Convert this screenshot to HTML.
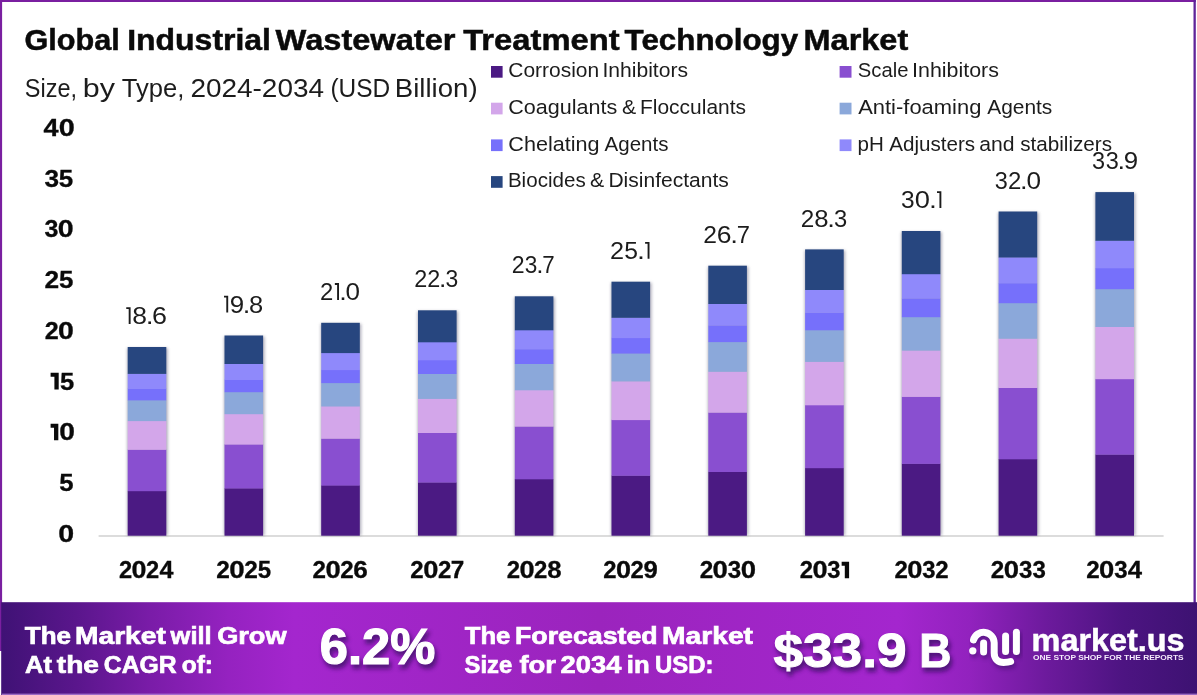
<!DOCTYPE html>
<html><head><meta charset="utf-8"><title>Global Industrial Wastewater Treatment Technology Market</title>
<style>
html,body{margin:0;padding:0;background:#fff;}
body{width:1197px;height:695px;overflow:hidden;font-family:"Liberation Sans",sans-serif;}
svg{display:block;font-family:"Liberation Sans",sans-serif;will-change:transform;-webkit-font-smoothing:antialiased;}
</style></head><body>
<svg width="1197" height="695" viewBox="0 0 1197 695">
<defs>
<linearGradient id="fg" x1="0" y1="0" x2="1" y2="0">
<stop offset="0" stop-color="#3f1275"/>
<stop offset="0.0625" stop-color="#5a168c"/>
<stop offset="0.125" stop-color="#7a1ca8"/>
<stop offset="0.19" stop-color="#9522c0"/>
<stop offset="0.245" stop-color="#a426ce"/>
<stop offset="0.5" stop-color="#9b24bd"/>
<stop offset="0.75" stop-color="#a426ce"/>
<stop offset="0.81" stop-color="#9222be"/>
<stop offset="0.875" stop-color="#6c1a9c"/>
<stop offset="0.9375" stop-color="#4d1482"/>
<stop offset="1" stop-color="#3d1272"/>
</linearGradient>
<filter id="bs" x="-30%" y="-5%" width="160%" height="110%"><feGaussianBlur stdDeviation="1.6"/></filter>
<filter id="ts" x="-10%" y="-20%" width="120%" height="150%"><feGaussianBlur stdDeviation="2"/></filter>
</defs>
<rect x="0" y="0" width="1197" height="695" fill="#ffffff"/>

<rect x="0" y="0" width="1195.8" height="2.0" fill="#7a1fa0"/>
<rect x="0" y="0" width="2.1" height="651" fill="#7a1fa0"/>
<rect x="1193.5" y="0" width="2.3" height="603" fill="#5f2499"/>
<text y="50.2" font-size="29.4" font-weight="700" fill="#0a0a0a" stroke="#0a0a0a" stroke-width="0.5"><tspan x="24.5" textLength="95.3" lengthAdjust="spacingAndGlyphs">Global</tspan><tspan x="127.2" textLength="143.8" lengthAdjust="spacingAndGlyphs">Industrial</tspan><tspan x="275.6" textLength="179.9" lengthAdjust="spacingAndGlyphs">Wastewater</tspan><tspan x="463.2" textLength="156.4" lengthAdjust="spacingAndGlyphs">Treatment</tspan><tspan x="624.6" textLength="173.6" lengthAdjust="spacingAndGlyphs">Technology</tspan><tspan x="803.6" textLength="104.6" lengthAdjust="spacingAndGlyphs">Market</tspan></text>
<text y="97.2" font-size="25.7" font-weight="400" fill="#1c1c1c"><tspan x="24.8" textLength="52.2" lengthAdjust="spacingAndGlyphs">Size,</tspan><tspan x="82.8" textLength="32.2" lengthAdjust="spacingAndGlyphs">by</tspan><tspan x="121.8" textLength="62.6" lengthAdjust="spacingAndGlyphs">Type,</tspan><tspan x="190.4" textLength="133.6" lengthAdjust="spacingAndGlyphs">2024-2034</tspan><tspan x="330.4" textLength="59.8" lengthAdjust="spacingAndGlyphs">(USD</tspan><tspan x="394.8" textLength="82.8" lengthAdjust="spacingAndGlyphs">Billion)</tspan></text>
<text y="541.7" font-size="24.2" font-weight="700" fill="#0a0a0a" stroke="#0a0a0a" stroke-width="0.3"><tspan x="58.37" textLength="15.90" lengthAdjust="spacingAndGlyphs">0</tspan></text>
<text y="491.0" font-size="24.2" font-weight="700" fill="#0a0a0a" stroke="#0a0a0a" stroke-width="0.3"><tspan x="59.21" textLength="14.31" lengthAdjust="spacingAndGlyphs">5</tspan></text>
<text y="440.3" font-size="24.2" font-weight="700" fill="#0a0a0a" stroke="#0a0a0a" stroke-width="0.3"><tspan x="59.28" textLength="15.68" lengthAdjust="spacingAndGlyphs">0</tspan></text><path d="M50.60 423.65H58.33V440.3H54.03V427.65H50.60Z" fill="#0a0a0a"/>
<text y="389.5" font-size="24.2" font-weight="700" fill="#0a0a0a" stroke="#0a0a0a" stroke-width="0.3"><tspan x="60.07" textLength="14.24" lengthAdjust="spacingAndGlyphs">5</tspan></text><path d="M50.60 372.85H58.70V389.5H54.40V376.85H50.60Z" fill="#0a0a0a"/>
<text y="338.8" font-size="24.2" font-weight="700" fill="#0a0a0a" stroke="#0a0a0a" stroke-width="0.3"><tspan x="44.73" textLength="13.96" lengthAdjust="spacingAndGlyphs">2</tspan><tspan x="58.13" textLength="15.84" lengthAdjust="spacingAndGlyphs">0</tspan></text>
<text y="288.1" font-size="24.2" font-weight="700" fill="#0a0a0a" stroke="#0a0a0a" stroke-width="0.3"><tspan x="44.49" textLength="14.64" lengthAdjust="spacingAndGlyphs">2</tspan><tspan x="58.91" textLength="14.41" lengthAdjust="spacingAndGlyphs">5</tspan></text>
<text y="237.4" font-size="24.2" font-weight="700" fill="#0a0a0a" stroke="#0a0a0a" stroke-width="0.3"><tspan x="44.43" textLength="13.92" lengthAdjust="spacingAndGlyphs">3</tspan><tspan x="57.88" textLength="15.89" lengthAdjust="spacingAndGlyphs">0</tspan></text>
<text y="186.6" font-size="24.2" font-weight="700" fill="#0a0a0a" stroke="#0a0a0a" stroke-width="0.3"><tspan x="44.40" textLength="14.58" lengthAdjust="spacingAndGlyphs">3</tspan><tspan x="58.88" textLength="14.45" lengthAdjust="spacingAndGlyphs">5</tspan></text>
<text y="135.9" font-size="24.2" font-weight="700" fill="#0a0a0a" stroke="#0a0a0a" stroke-width="0.3"><tspan x="43.49" textLength="15.03" lengthAdjust="spacingAndGlyphs">4</tspan><tspan x="58.82" textLength="16.06" lengthAdjust="spacingAndGlyphs">0</tspan></text>
<rect x="98.6" y="535.1999999999999" width="1065" height="1.6" fill="#d4d4d4"/>
<rect x="127.2" y="348.0" width="40.6" height="187.4" fill="#7d7a90" opacity="0.6" filter="url(#bs)"/>
<rect x="127.7" y="490.9" width="38.6" height="44.8" fill="#4b1a83"/>
<rect x="127.7" y="449.5" width="38.6" height="41.7" fill="#894fd0"/>
<rect x="127.7" y="420.9" width="38.6" height="28.9" fill="#d3a6ea"/>
<rect x="127.7" y="400.1" width="38.6" height="21.0" fill="#8ba8da"/>
<rect x="127.7" y="388.6" width="38.6" height="11.8" fill="#7670fb"/>
<rect x="127.7" y="373.6" width="38.6" height="15.4" fill="#8f89fb"/>
<rect x="127.7" y="347.0" width="38.6" height="26.9" fill="#27467f"/>
<text y="324.1" font-size="24.4" font-weight="400" fill="#1c1c1c"><tspan x="132.25" textLength="14.74" lengthAdjust="spacingAndGlyphs">8</tspan><tspan x="145.74" textLength="7.86" lengthAdjust="spacingAndGlyphs">.</tspan><tspan x="152.14" textLength="14.99" lengthAdjust="spacingAndGlyphs">6</tspan></text><path d="M126.25 307.31H130.60V324.1H128.70V309.11H126.25Z" fill="#1c1c1c"/>
<text y="578.3" font-size="24.0" font-weight="700" fill="#0a0a0a" stroke="#0a0a0a" stroke-width="0.3"><tspan x="118.93" textLength="13.18" lengthAdjust="spacingAndGlyphs">2</tspan><tspan x="131.57" textLength="14.95" lengthAdjust="spacingAndGlyphs">0</tspan><tspan x="146.07" textLength="13.18" lengthAdjust="spacingAndGlyphs">2</tspan><tspan x="159.40" textLength="13.99" lengthAdjust="spacingAndGlyphs">4</tspan></text>
<rect x="224.0" y="336.5" width="40.6" height="198.9" fill="#7d7a90" opacity="0.6" filter="url(#bs)"/>
<rect x="224.5" y="488.2" width="38.6" height="47.5" fill="#4b1a83"/>
<rect x="224.5" y="444.2" width="38.6" height="44.3" fill="#894fd0"/>
<rect x="224.5" y="413.9" width="38.6" height="30.7" fill="#d3a6ea"/>
<rect x="224.5" y="391.9" width="38.6" height="22.3" fill="#8ba8da"/>
<rect x="224.5" y="379.7" width="38.6" height="12.5" fill="#7670fb"/>
<rect x="224.5" y="363.7" width="38.6" height="16.3" fill="#8f89fb"/>
<rect x="224.5" y="335.5" width="38.6" height="28.5" fill="#27467f"/>
<text y="312.6" font-size="24.4" font-weight="400" fill="#1c1c1c"><tspan x="229.67" textLength="14.41" lengthAdjust="spacingAndGlyphs">9</tspan><tspan x="242.76" textLength="7.57" lengthAdjust="spacingAndGlyphs">.</tspan><tspan x="249.12" textLength="14.19" lengthAdjust="spacingAndGlyphs">8</tspan></text><path d="M224.00 295.81H228.19V312.6H226.29V297.61H224.00Z" fill="#1c1c1c"/>
<text y="578.3" font-size="24.0" font-weight="700" fill="#0a0a0a" stroke="#0a0a0a" stroke-width="0.3"><tspan x="216.30" textLength="13.60" lengthAdjust="spacingAndGlyphs">2</tspan><tspan x="229.35" textLength="15.43" lengthAdjust="spacingAndGlyphs">0</tspan><tspan x="244.32" textLength="13.60" lengthAdjust="spacingAndGlyphs">2</tspan><tspan x="257.73" textLength="13.39" lengthAdjust="spacingAndGlyphs">5</tspan></text>
<rect x="320.7" y="323.8" width="40.6" height="211.6" fill="#7d7a90" opacity="0.6" filter="url(#bs)"/>
<rect x="321.2" y="485.2" width="38.6" height="50.5" fill="#4b1a83"/>
<rect x="321.2" y="438.5" width="38.6" height="47.1" fill="#894fd0"/>
<rect x="321.2" y="406.1" width="38.6" height="32.6" fill="#d3a6ea"/>
<rect x="321.2" y="382.8" width="38.6" height="23.7" fill="#8ba8da"/>
<rect x="321.2" y="369.8" width="38.6" height="13.3" fill="#7670fb"/>
<rect x="321.2" y="352.8" width="38.6" height="17.3" fill="#8f89fb"/>
<rect x="321.2" y="322.8" width="38.6" height="30.3" fill="#27467f"/>
<text y="299.9" font-size="24.4" font-weight="400" fill="#1c1c1c"><tspan x="320.10" textLength="13.29" lengthAdjust="spacingAndGlyphs">2</tspan><tspan x="339.22" textLength="7.51" lengthAdjust="spacingAndGlyphs">.</tspan><tspan x="345.61" textLength="14.51" lengthAdjust="spacingAndGlyphs">0</tspan></text><path d="M334.86 283.11H339.01V299.9H337.11V284.91H334.86Z" fill="#1c1c1c"/>
<text y="578.3" font-size="24.0" font-weight="700" fill="#0a0a0a" stroke="#0a0a0a" stroke-width="0.3"><tspan x="312.51" textLength="13.45" lengthAdjust="spacingAndGlyphs">2</tspan><tspan x="325.41" textLength="15.26" lengthAdjust="spacingAndGlyphs">0</tspan><tspan x="340.22" textLength="13.45" lengthAdjust="spacingAndGlyphs">2</tspan><tspan x="353.24" textLength="14.55" lengthAdjust="spacingAndGlyphs">6</tspan></text>
<rect x="417.5" y="311.3" width="40.6" height="224.1" fill="#7d7a90" opacity="0.6" filter="url(#bs)"/>
<rect x="418.0" y="482.3" width="38.6" height="53.4" fill="#4b1a83"/>
<rect x="418.0" y="432.8" width="38.6" height="49.8" fill="#894fd0"/>
<rect x="418.0" y="398.5" width="38.6" height="34.5" fill="#d3a6ea"/>
<rect x="418.0" y="373.8" width="38.6" height="25.1" fill="#8ba8da"/>
<rect x="418.0" y="360.0" width="38.6" height="14.0" fill="#7670fb"/>
<rect x="418.0" y="342.0" width="38.6" height="18.3" fill="#8f89fb"/>
<rect x="418.0" y="310.3" width="38.6" height="32.0" fill="#27467f"/>
<text y="287.4" font-size="24.4" font-weight="400" fill="#1c1c1c"><tspan x="414.37" textLength="13.02" lengthAdjust="spacingAndGlyphs">2</tspan><tspan x="427.37" textLength="13.02" lengthAdjust="spacingAndGlyphs">2</tspan><tspan x="439.12" textLength="7.36" lengthAdjust="spacingAndGlyphs">.</tspan><tspan x="445.52" textLength="12.74" lengthAdjust="spacingAndGlyphs">3</tspan></text>
<text y="578.3" font-size="24.0" font-weight="700" fill="#0a0a0a" stroke="#0a0a0a" stroke-width="0.3"><tspan x="410.37" textLength="13.37" lengthAdjust="spacingAndGlyphs">2</tspan><tspan x="423.20" textLength="15.17" lengthAdjust="spacingAndGlyphs">0</tspan><tspan x="437.91" textLength="13.37" lengthAdjust="spacingAndGlyphs">2</tspan><tspan x="450.78" textLength="13.49" lengthAdjust="spacingAndGlyphs">7</tspan></text>
<rect x="514.3" y="297.3" width="40.6" height="238.1" fill="#7d7a90" opacity="0.6" filter="url(#bs)"/>
<rect x="514.8" y="479.0" width="38.6" height="56.7" fill="#4b1a83"/>
<rect x="514.8" y="426.4" width="38.6" height="52.9" fill="#894fd0"/>
<rect x="514.8" y="390.0" width="38.6" height="36.6" fill="#d3a6ea"/>
<rect x="514.8" y="363.7" width="38.6" height="26.6" fill="#8ba8da"/>
<rect x="514.8" y="349.1" width="38.6" height="14.9" fill="#7670fb"/>
<rect x="514.8" y="330.0" width="38.6" height="19.4" fill="#8f89fb"/>
<rect x="514.8" y="296.3" width="38.6" height="34.0" fill="#27467f"/>
<text y="273.4" font-size="24.4" font-weight="400" fill="#1c1c1c"><tspan x="511.64" textLength="12.86" lengthAdjust="spacingAndGlyphs">2</tspan><tspan x="524.77" textLength="12.58" lengthAdjust="spacingAndGlyphs">3</tspan><tspan x="536.27" textLength="7.27" lengthAdjust="spacingAndGlyphs">.</tspan><tspan x="542.30" textLength="12.42" lengthAdjust="spacingAndGlyphs">7</tspan></text>
<text y="578.3" font-size="24.0" font-weight="700" fill="#0a0a0a" stroke="#0a0a0a" stroke-width="0.3"><tspan x="506.67" textLength="13.32" lengthAdjust="spacingAndGlyphs">2</tspan><tspan x="519.45" textLength="15.12" lengthAdjust="spacingAndGlyphs">0</tspan><tspan x="534.11" textLength="13.32" lengthAdjust="spacingAndGlyphs">2</tspan><tspan x="547.15" textLength="14.34" lengthAdjust="spacingAndGlyphs">8</tspan></text>
<rect x="611.0" y="282.7" width="40.6" height="252.7" fill="#7d7a90" opacity="0.6" filter="url(#bs)"/>
<rect x="611.5" y="475.5" width="38.6" height="60.2" fill="#4b1a83"/>
<rect x="611.5" y="419.7" width="38.6" height="56.1" fill="#894fd0"/>
<rect x="611.5" y="381.2" width="38.6" height="38.9" fill="#d3a6ea"/>
<rect x="611.5" y="353.2" width="38.6" height="28.2" fill="#8ba8da"/>
<rect x="611.5" y="337.8" width="38.6" height="15.8" fill="#7670fb"/>
<rect x="611.5" y="317.5" width="38.6" height="20.6" fill="#8f89fb"/>
<rect x="611.5" y="281.7" width="38.6" height="36.1" fill="#27467f"/>
<text y="258.8" font-size="24.4" font-weight="400" fill="#1c1c1c"><tspan x="610.03" textLength="14.05" lengthAdjust="spacingAndGlyphs">2</tspan><tspan x="624.33" textLength="13.75" lengthAdjust="spacingAndGlyphs">5</tspan><tspan x="636.95" textLength="7.94" lengthAdjust="spacingAndGlyphs">.</tspan></text><path d="M645.10 242.01H649.50V258.8H647.60V243.81H645.10Z" fill="#1c1c1c"/>
<text y="578.3" font-size="24.0" font-weight="700" fill="#0a0a0a" stroke="#0a0a0a" stroke-width="0.3"><tspan x="603.17" textLength="13.27" lengthAdjust="spacingAndGlyphs">2</tspan><tspan x="615.91" textLength="15.06" lengthAdjust="spacingAndGlyphs">0</tspan><tspan x="630.51" textLength="13.27" lengthAdjust="spacingAndGlyphs">2</tspan><tspan x="643.42" textLength="14.33" lengthAdjust="spacingAndGlyphs">9</tspan></text>
<rect x="707.8" y="266.7" width="40.6" height="268.7" fill="#7d7a90" opacity="0.6" filter="url(#bs)"/>
<rect x="708.3" y="471.8" width="38.6" height="63.9" fill="#4b1a83"/>
<rect x="708.3" y="412.4" width="38.6" height="59.6" fill="#894fd0"/>
<rect x="708.3" y="371.4" width="38.6" height="41.3" fill="#d3a6ea"/>
<rect x="708.3" y="341.8" width="38.6" height="30.0" fill="#8ba8da"/>
<rect x="708.3" y="325.3" width="38.6" height="16.8" fill="#7670fb"/>
<rect x="708.3" y="303.7" width="38.6" height="21.9" fill="#8f89fb"/>
<rect x="708.3" y="265.7" width="38.6" height="38.3" fill="#27467f"/>
<text y="242.8" font-size="24.4" font-weight="400" fill="#1c1c1c"><tspan x="703.21" textLength="13.71" lengthAdjust="spacingAndGlyphs">2</tspan><tspan x="716.78" textLength="14.76" lengthAdjust="spacingAndGlyphs">6</tspan><tspan x="730.28" textLength="7.74" lengthAdjust="spacingAndGlyphs">.</tspan><tspan x="736.71" textLength="13.24" lengthAdjust="spacingAndGlyphs">7</tspan></text>
<text y="578.3" font-size="24.0" font-weight="700" fill="#0a0a0a" stroke="#0a0a0a" stroke-width="0.3"><tspan x="699.66" textLength="13.50" lengthAdjust="spacingAndGlyphs">2</tspan><tspan x="712.61" textLength="15.31" lengthAdjust="spacingAndGlyphs">0</tspan><tspan x="727.75" textLength="13.41" lengthAdjust="spacingAndGlyphs">3</tspan><tspan x="740.71" textLength="15.31" lengthAdjust="spacingAndGlyphs">0</tspan></text>
<rect x="804.6" y="250.4" width="40.6" height="285.0" fill="#7d7a90" opacity="0.6" filter="url(#bs)"/>
<rect x="805.1" y="467.9" width="38.6" height="67.8" fill="#4b1a83"/>
<rect x="805.1" y="405.0" width="38.6" height="63.2" fill="#894fd0"/>
<rect x="805.1" y="361.5" width="38.6" height="43.8" fill="#d3a6ea"/>
<rect x="805.1" y="330.1" width="38.6" height="31.8" fill="#8ba8da"/>
<rect x="805.1" y="312.6" width="38.6" height="17.7" fill="#7670fb"/>
<rect x="805.1" y="289.7" width="38.6" height="23.2" fill="#8f89fb"/>
<rect x="805.1" y="249.4" width="38.6" height="40.6" fill="#27467f"/>
<text y="226.5" font-size="24.4" font-weight="400" fill="#1c1c1c"><tspan x="800.63" textLength="13.52" lengthAdjust="spacingAndGlyphs">2</tspan><tspan x="814.22" textLength="14.32" lengthAdjust="spacingAndGlyphs">8</tspan><tspan x="827.33" textLength="7.64" lengthAdjust="spacingAndGlyphs">.</tspan><tspan x="833.97" textLength="13.23" lengthAdjust="spacingAndGlyphs">3</tspan></text>
<text y="578.3" font-size="24.0" font-weight="700" fill="#0a0a0a" stroke="#0a0a0a" stroke-width="0.3"><tspan x="799.67" textLength="13.29" lengthAdjust="spacingAndGlyphs">2</tspan><tspan x="812.42" textLength="15.08" lengthAdjust="spacingAndGlyphs">0</tspan><tspan x="827.33" textLength="13.21" lengthAdjust="spacingAndGlyphs">3</tspan></text><path d="M841.66 561.79H849.10V578.3H844.80V565.79H841.66Z" fill="#0a0a0a"/>
<rect x="901.3" y="232.0" width="40.6" height="303.4" fill="#7d7a90" opacity="0.6" filter="url(#bs)"/>
<rect x="901.8" y="463.6" width="38.6" height="72.1" fill="#4b1a83"/>
<rect x="901.8" y="396.6" width="38.6" height="67.3" fill="#894fd0"/>
<rect x="901.8" y="350.3" width="38.6" height="46.6" fill="#d3a6ea"/>
<rect x="901.8" y="316.8" width="38.6" height="33.8" fill="#8ba8da"/>
<rect x="901.8" y="298.3" width="38.6" height="18.9" fill="#7670fb"/>
<rect x="901.8" y="273.9" width="38.6" height="24.7" fill="#8f89fb"/>
<rect x="901.8" y="231.0" width="38.6" height="43.2" fill="#27467f"/>
<text y="208.1" font-size="24.4" font-weight="400" fill="#1c1c1c"><tspan x="900.92" textLength="13.62" lengthAdjust="spacingAndGlyphs">3</tspan><tspan x="914.88" textLength="15.20" lengthAdjust="spacingAndGlyphs">0</tspan><tspan x="928.92" textLength="7.87" lengthAdjust="spacingAndGlyphs">.</tspan></text><path d="M937.00 191.31H941.35V208.1H939.45V193.11H937.00Z" fill="#1c1c1c"/>
<text y="578.3" font-size="24.0" font-weight="700" fill="#0a0a0a" stroke="#0a0a0a" stroke-width="0.3"><tspan x="894.42" textLength="13.37" lengthAdjust="spacingAndGlyphs">2</tspan><tspan x="907.25" textLength="15.17" lengthAdjust="spacingAndGlyphs">0</tspan><tspan x="922.25" textLength="13.29" lengthAdjust="spacingAndGlyphs">3</tspan><tspan x="935.34" textLength="13.37" lengthAdjust="spacingAndGlyphs">2</tspan></text>
<rect x="998.1" y="212.5" width="40.6" height="322.9" fill="#7d7a90" opacity="0.6" filter="url(#bs)"/>
<rect x="998.6" y="459.0" width="38.6" height="76.7" fill="#4b1a83"/>
<rect x="998.6" y="387.7" width="38.6" height="71.6" fill="#894fd0"/>
<rect x="998.6" y="338.5" width="38.6" height="49.5" fill="#d3a6ea"/>
<rect x="998.6" y="302.8" width="38.6" height="35.9" fill="#8ba8da"/>
<rect x="998.6" y="283.1" width="38.6" height="20.1" fill="#7670fb"/>
<rect x="998.6" y="257.2" width="38.6" height="26.2" fill="#8f89fb"/>
<rect x="998.6" y="211.5" width="38.6" height="46.0" fill="#27467f"/>
<text y="188.6" font-size="24.4" font-weight="400" fill="#1c1c1c"><tspan x="994.76" textLength="13.05" lengthAdjust="spacingAndGlyphs">3</tspan><tspan x="1007.95" textLength="13.34" lengthAdjust="spacingAndGlyphs">2</tspan><tspan x="1019.99" textLength="7.54" lengthAdjust="spacingAndGlyphs">.</tspan><tspan x="1026.41" textLength="14.56" lengthAdjust="spacingAndGlyphs">0</tspan></text>
<text y="578.3" font-size="24.0" font-weight="700" fill="#0a0a0a" stroke="#0a0a0a" stroke-width="0.3"><tspan x="990.86" textLength="13.48" lengthAdjust="spacingAndGlyphs">2</tspan><tspan x="1003.79" textLength="15.29" lengthAdjust="spacingAndGlyphs">0</tspan><tspan x="1018.90" textLength="13.39" lengthAdjust="spacingAndGlyphs">3</tspan><tspan x="1032.38" textLength="13.39" lengthAdjust="spacingAndGlyphs">3</tspan></text>
<rect x="1094.9" y="193.1" width="40.6" height="342.3" fill="#7d7a90" opacity="0.6" filter="url(#bs)"/>
<rect x="1095.4" y="454.4" width="38.6" height="81.3" fill="#4b1a83"/>
<rect x="1095.4" y="378.9" width="38.6" height="75.8" fill="#894fd0"/>
<rect x="1095.4" y="326.7" width="38.6" height="52.5" fill="#d3a6ea"/>
<rect x="1095.4" y="288.9" width="38.6" height="38.1" fill="#8ba8da"/>
<rect x="1095.4" y="268.0" width="38.6" height="21.2" fill="#7670fb"/>
<rect x="1095.4" y="240.5" width="38.6" height="27.8" fill="#8f89fb"/>
<rect x="1095.4" y="192.1" width="38.6" height="48.7" fill="#27467f"/>
<text y="169.2" font-size="24.4" font-weight="400" fill="#1c1c1c"><tspan x="1092.10" textLength="13.08" lengthAdjust="spacingAndGlyphs">3</tspan><tspan x="1105.64" textLength="13.08" lengthAdjust="spacingAndGlyphs">3</tspan><tspan x="1117.59" textLength="7.55" lengthAdjust="spacingAndGlyphs">.</tspan><tspan x="1123.84" textLength="14.38" lengthAdjust="spacingAndGlyphs">9</tspan></text>
<text y="578.3" font-size="24.0" font-weight="700" fill="#0a0a0a" stroke="#0a0a0a" stroke-width="0.3"><tspan x="1086.16" textLength="13.47" lengthAdjust="spacingAndGlyphs">2</tspan><tspan x="1099.08" textLength="15.29" lengthAdjust="spacingAndGlyphs">0</tspan><tspan x="1114.20" textLength="13.39" lengthAdjust="spacingAndGlyphs">3</tspan><tspan x="1127.84" textLength="14.30" lengthAdjust="spacingAndGlyphs">4</tspan></text>
<rect x="491" y="66.0" width="11.6" height="11.7" fill="#4b1a83"/>
<text y="77.3" font-size="19.7" font-weight="400" fill="#1c1c1c"><tspan x="508.3" textLength="90.9" lengthAdjust="spacingAndGlyphs">Corrosion</tspan><tspan x="602.4" textLength="85.6" lengthAdjust="spacingAndGlyphs">Inhibitors</tspan></text>
<rect x="491" y="102.7" width="11.6" height="11.7" fill="#d3a6ea"/>
<text y="114.0" font-size="19.7" font-weight="400" fill="#1c1c1c"><tspan x="508.3" textLength="109.0" lengthAdjust="spacingAndGlyphs">Coagulants</tspan><tspan x="622" textLength="14.2" lengthAdjust="spacingAndGlyphs">&amp;</tspan><tspan x="640" textLength="106" lengthAdjust="spacingAndGlyphs">Flocculants</tspan></text>
<rect x="491" y="139.4" width="11.6" height="11.7" fill="#7670fb"/>
<text y="150.7" font-size="19.7" font-weight="400" fill="#1c1c1c"><tspan x="508.3" textLength="91.2" lengthAdjust="spacingAndGlyphs">Chelating</tspan><tspan x="604.6" textLength="63.8" lengthAdjust="spacingAndGlyphs">Agents</tspan></text>
<rect x="491" y="176.1" width="11.6" height="11.7" fill="#27467f"/>
<text y="187.4" font-size="19.7" font-weight="400" fill="#1c1c1c"><tspan x="507.9" textLength="77.8" lengthAdjust="spacingAndGlyphs">Biocides</tspan><tspan x="590.1" textLength="14.2" lengthAdjust="spacingAndGlyphs">&amp;</tspan><tspan x="608.4" textLength="120.4" lengthAdjust="spacingAndGlyphs">Disinfectants</tspan></text>
<rect x="839.6" y="66.0" width="11.9" height="11.7" fill="#894fd0"/>
<text y="77.3" font-size="19.7" font-weight="400" fill="#1c1c1c"><tspan x="857.8" textLength="50.6" lengthAdjust="spacingAndGlyphs">Scale</tspan><tspan x="912.1" textLength="86.8" lengthAdjust="spacingAndGlyphs">Inhibitors</tspan></text>
<rect x="839.6" y="102.7" width="11.9" height="11.7" fill="#8ba8da"/>
<text y="114.0" font-size="19.7" font-weight="400" fill="#1c1c1c"><tspan x="858.2" textLength="123.2" lengthAdjust="spacingAndGlyphs">Anti-foaming</tspan><tspan x="987.2" textLength="65.1" lengthAdjust="spacingAndGlyphs">Agents</tspan></text>
<rect x="839.6" y="139.4" width="11.9" height="11.7" fill="#8f89fb"/>
<text y="150.7" font-size="19.7" font-weight="400" fill="#1c1c1c"><tspan x="857.5" textLength="26.3" lengthAdjust="spacingAndGlyphs">pH</tspan><tspan x="889.2" textLength="85.9" lengthAdjust="spacingAndGlyphs">Adjusters</tspan><tspan x="979.2" textLength="35.3" lengthAdjust="spacingAndGlyphs">and</tspan><tspan x="1020.2" textLength="91.9" lengthAdjust="spacingAndGlyphs">stabilizers</tspan></text>
<rect x="1.2" y="602.2" width="1195.8" height="93" fill="url(#fg)"/>
<rect x="2" y="693.6" width="1195" height="1.4" fill="#b07fd6" opacity="0.8"/>
<text y="643.8" font-size="24.6" font-weight="700" fill="#ffffff" stroke="#ffffff" stroke-width="0.7"><tspan x="24.8" textLength="46.2" lengthAdjust="spacingAndGlyphs">The</tspan><tspan x="75" textLength="90.8" lengthAdjust="spacingAndGlyphs">Market</tspan><tspan x="170.6" textLength="41.0" lengthAdjust="spacingAndGlyphs">will</tspan><tspan x="217.2" textLength="69.4" lengthAdjust="spacingAndGlyphs">Grow</tspan></text>
<text y="672.9" font-size="24.6" font-weight="700" fill="#ffffff" stroke="#ffffff" stroke-width="0.7"><tspan x="25" textLength="27" lengthAdjust="spacingAndGlyphs">At</tspan><tspan x="56.8" textLength="42.2" lengthAdjust="spacingAndGlyphs">the</tspan><tspan x="103.8" textLength="72.8" lengthAdjust="spacingAndGlyphs">CAGR</tspan><tspan x="181.8" textLength="31.2" lengthAdjust="spacingAndGlyphs">of:</tspan></text>
<g transform="translate(2,3.6)" opacity="0.7" filter="url(#ts)"><text y="664.4" font-size="50.6" font-weight="700" fill="#300a5c" stroke="#300a5c" stroke-width="2"><tspan x="319.8" textLength="115.6" lengthAdjust="spacingAndGlyphs">6.2%</tspan></text></g><text y="664.4" font-size="50.6" font-weight="700" fill="#ffffff" stroke="#ffffff" stroke-width="1.2"><tspan x="319.8" textLength="115.6" lengthAdjust="spacingAndGlyphs">6.2%</tspan></text>
<text y="643.6" font-size="24.6" font-weight="700" fill="#ffffff" stroke="#ffffff" stroke-width="0.7"><tspan x="464.8" textLength="45.6" lengthAdjust="spacingAndGlyphs">The</tspan><tspan x="515" textLength="142.6" lengthAdjust="spacingAndGlyphs">Forecasted</tspan><tspan x="662" textLength="91" lengthAdjust="spacingAndGlyphs">Market</tspan></text>
<text y="672.9" font-size="24.6" font-weight="700" fill="#ffffff" stroke="#ffffff" stroke-width="0.7"><tspan x="464.6" textLength="47.6" lengthAdjust="spacingAndGlyphs">Size</tspan><tspan x="519.4" textLength="36.6" lengthAdjust="spacingAndGlyphs">for</tspan><tspan x="560.6" textLength="60.8" lengthAdjust="spacingAndGlyphs">2034</tspan><tspan x="626.8" textLength="22.8" lengthAdjust="spacingAndGlyphs">in</tspan><tspan x="655" textLength="58.4" lengthAdjust="spacingAndGlyphs">USD:</tspan></text>
<g transform="translate(2,3.6)" opacity="0.7" filter="url(#ts)"><text y="667.2" font-size="48.0" font-weight="700" fill="#300a5c" stroke="#300a5c" stroke-width="2"><tspan x="773.4" textLength="133.2" lengthAdjust="spacingAndGlyphs">$33.9</tspan><tspan x="919.2" textLength="32.2" lengthAdjust="spacingAndGlyphs">B</tspan></text></g><text y="667.2" font-size="48.0" font-weight="700" fill="#ffffff" stroke="#ffffff" stroke-width="1.0"><tspan x="773.4" textLength="133.2" lengthAdjust="spacingAndGlyphs">$33.9</tspan><tspan x="919.2" textLength="32.2" lengthAdjust="spacingAndGlyphs">B</tspan></text>
<g fill="none" stroke="#2a0a55" stroke-width="7" stroke-linecap="round" opacity="0.5" filter="url(#ts)" transform="translate(1.5,3)">
<path d="M973.5 640 A10.55 10.55 0 0 1 994.2 642.85 L994.2 653 C994.2 659.4 998.6 662.4 1003.6 662.4 C1006.6 662.4 1008.8 662.2 1010.6 661.5"/><path d="M983.6 643.1V652"/><path d="M1005.6 636.1V651.6"/><path d="M1016.4 632.3V651.4"/><path d="M972.8 650.8h0.01" stroke-width="7.3"/></g>
<g fill="none" stroke="#ffffff" stroke-width="7" stroke-linecap="round">
<path d="M973.5 640 A10.55 10.55 0 0 1 994.2 642.85 L994.2 653 C994.2 659.4 998.6 662.4 1003.6 662.4 C1006.6 662.4 1008.8 662.2 1010.6 661.5"/><path d="M983.6 643.1V652"/><path d="M1005.6 636.1V651.6"/><path d="M1016.4 632.3V651.4"/><path d="M972.8 650.8h0.01" stroke-width="7.3"/></g>
<text y="651.2" font-size="30.6" font-weight="700" fill="#ffffff" stroke="#ffffff" stroke-width="0.5"><tspan x="1031.6" textLength="153.0" lengthAdjust="spacingAndGlyphs">market.us</tspan></text>
<text x="1033" y="660.4" font-size="6.4" font-weight="700" text-anchor="start" fill="#f4e8fb" textLength="150.6" lengthAdjust="spacingAndGlyphs">ONE STOP SHOP FOR THE REPORTS</text>
</svg>
</body></html>
